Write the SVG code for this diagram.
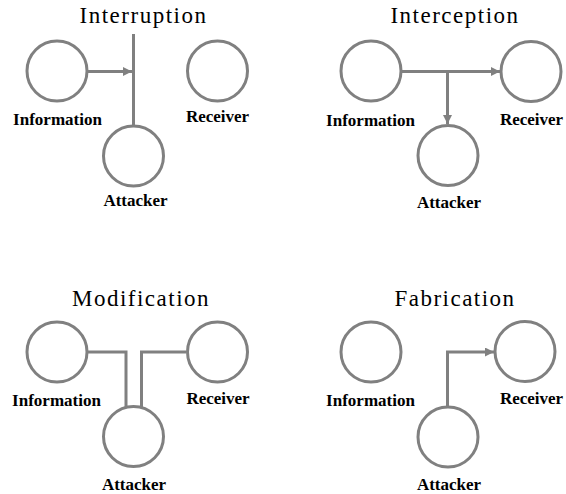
<svg xmlns="http://www.w3.org/2000/svg" width="566" height="494" viewBox="0 0 566 494">
<style>
.node{fill:none;stroke:#808080;stroke-width:3}
.link{fill:none;stroke:#808080;stroke-width:3}
.title{font-size:23px;letter-spacing:1.5px;text-anchor:middle;fill:#000}
.lbl{font-size:17px;font-weight:bold;text-anchor:middle;fill:#000}
</style>
<defs>
<marker id="ah" markerUnits="userSpaceOnUse" markerWidth="10" markerHeight="10" refX="9" refY="4.5" orient="auto">
<path d="M0,0 L9,4.5 L0,9 z" fill="#808080"/>
</marker>
</defs>
<g font-family="Liberation Serif, Times New Roman, serif">
<text class="title" x="143.5" y="23">Interruption</text>
<text class="title" x="455" y="23">Interception</text>
<text class="title" x="141" y="306">Modification</text>
<text class="title" x="455" y="306">Fabrication</text>
<g id="connectors">
<line class="link" x1="88" y1="71.5" x2="132" y2="71.5" marker-end="url(#ah)"/>
<line class="link" x1="133.5" y1="34" x2="133.5" y2="125"/>
<line class="link" x1="402" y1="71.5" x2="500" y2="71.5" marker-end="url(#ah)"/>
<line class="link" x1="447.5" y1="71.5" x2="447.5" y2="124" marker-end="url(#ah)"/>
<path class="link" d="M88,352 H126 V407"/>
<path class="link" d="M186,352 H141.5 V407"/>
<path class="link" d="M447.5,406 V352 H494" marker-end="url(#ah)"/>
</g>
<g id="p1-information"><circle class="node" cx="57" cy="71" r="30"/><text class="lbl" x="57.5" y="125">Information</text></g>
<g id="p1-receiver"><circle class="node" cx="217.5" cy="71" r="30"/><text class="lbl" x="217.5" y="122">Receiver</text></g>
<g id="p1-attacker"><circle class="node" cx="133.5" cy="156" r="30"/><text class="lbl" x="135.5" y="206">Attacker</text></g>
<g id="p2-information"><circle class="node" cx="371" cy="71" r="30"/><text class="lbl" x="370.5" y="126">Information</text></g>
<g id="p2-receiver"><circle class="node" cx="531" cy="71.5" r="30"/><text class="lbl" x="531.5" y="125">Receiver</text></g>
<g id="p2-attacker"><circle class="node" cx="448" cy="155.5" r="30"/><text class="lbl" x="449" y="208">Attacker</text></g>
<g id="p3-information"><circle class="node" cx="57" cy="352" r="30"/><text class="lbl" x="56.5" y="406">Information</text></g>
<g id="p3-receiver"><circle class="node" cx="217.5" cy="352" r="30"/><text class="lbl" x="218" y="404">Receiver</text></g>
<g id="p3-attacker"><circle class="node" cx="133.5" cy="436.5" r="30"/><text class="lbl" x="134" y="490">Attacker</text></g>
<g id="p4-information"><circle class="node" cx="371" cy="352" r="30"/><text class="lbl" x="370.5" y="406">Information</text></g>
<g id="p4-receiver"><circle class="node" cx="525" cy="351.5" r="30"/><text class="lbl" x="531.5" y="404">Receiver</text></g>
<g id="p4-attacker"><circle class="node" cx="448" cy="437" r="30"/><text class="lbl" x="449" y="490">Attacker</text></g>
</g>
</svg>
